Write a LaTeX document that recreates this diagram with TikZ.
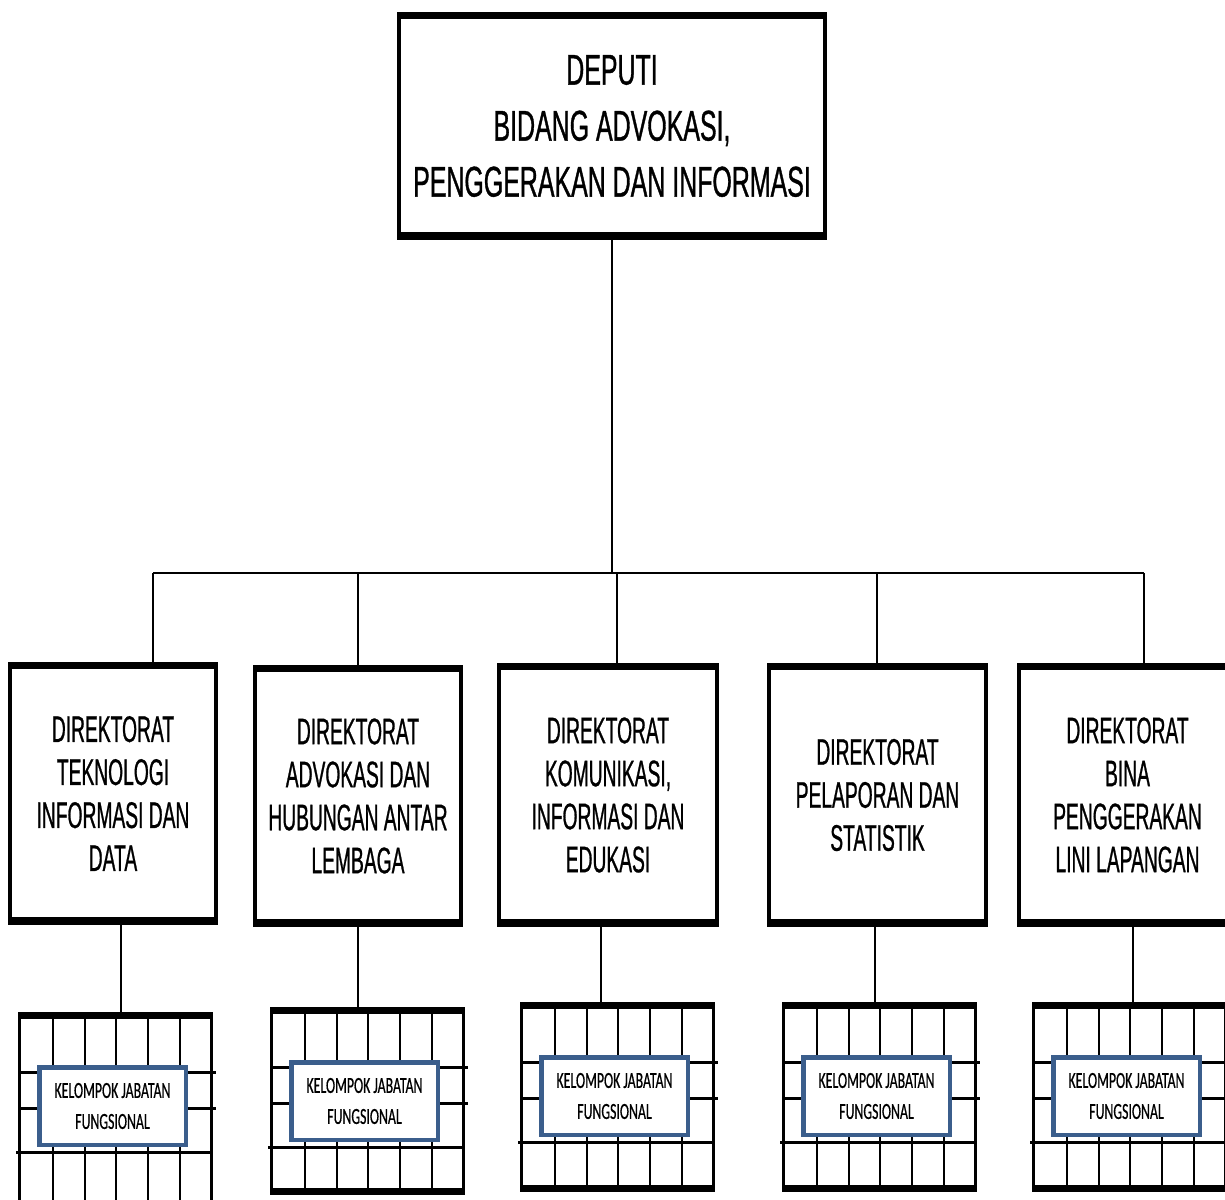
\documentclass[tikz,border=0pt]{standalone}
\usepackage{fontspec}
\newfontfamily\topfont[FakeStretch=0.58,FakeBold=0.8]{Liberation Sans}
\newfontfamily\dirfont[FakeStretch=0.52,FakeBold=0.7]{Liberation Sans}
\newfontfamily\kjfont[FakeStretch=0.6,FakeBold=0.5]{Carlito}
\definecolor{kjblue}{HTML}{3B5E8C}
\newcommand\gridbox[5]{%
  \node[gridframe, minimum height=#4-3, anchor=north west] (#1) at (#2,#3) {};
  \foreach \dx in {35,67,98,130,162}
    \draw[gridline] (#2+\dx,#3) -- (#2+\dx,#3+#4);
  \draw[gridrow] (#2+3,#3+60) -- (#2+198,#3+60);
  \draw[gridrow] (#2+3,#3+96) -- (#2+198,#3+96);
  \draw[gridrow] (#2-2,#3+140) -- (#2+193,#3+140);
  \fill (#1.north west) rectangle ([yshift=-7pt]#1.north east);
  \fill (#1.south west) rectangle ([yshift=7pt]#1.south east);
  \node[kj, minimum width=146.5, minimum height=77.5] (#5) at (#2+94.5,#3+94) {KELOMPOK JABATAN\\FUNGSIONAL};
}
\begin{document}
\begin{tikzpicture}[x=1pt,y=-1pt,
  conn/.style={line width=2},
  box/.style={draw, line width=4, fill=white, inner sep=0, align=center},
  dirbox/.style={box, font=\dirfont\fontsize{37}{43}\selectfont},
  gridframe/.style={draw, line width=3, minimum width=192, inner sep=0},
  gridline/.style={line width=2},
  gridrow/.style={line width=3},
  kj/.style={draw=kjblue, line width=4.5, fill=white, align=center, inner sep=0,
    font=\kjfont\fontsize{23}{31}\selectfont}]
\clip (0,0) rectangle (1225,1199);
\fill[white] (0,0) rectangle (1225,1199);

% top box
\node[box, minimum width=426, minimum height=224,
  font=\topfont\fontsize{43}{56}\selectfont] (dep) at (612,126)
  {DEPUTI\\BIDANG ADVOKASI,\\PENGGERAKAN DAN INFORMASI};
\fill (dep.north west) rectangle ([yshift=-7pt]dep.north east);
\fill (dep.south west) rectangle ([yshift=8pt]dep.south east);

% directorates
\node[dirbox, minimum width=206, minimum height=259] (d1) at (113,793.5)
  {DIREKTORAT\\TEKNOLOGI\\INFORMASI DAN\\DATA};
\node[dirbox, minimum width=206, minimum height=258] (d2) at (358,796)
  {DIREKTORAT\\ADVOKASI DAN\\HUBUNGAN ANTAR\\LEMBAGA};
\node[dirbox, minimum width=218, minimum height=260] (d3) at (608,795)
  {DIREKTORAT\\KOMUNIKASI,\\INFORMASI DAN\\EDUKASI};
\node[dirbox, minimum width=217, minimum height=260] (d4) at (877.5,795)
  {DIREKTORAT\\PELAPORAN DAN\\STATISTIK};
\node[dirbox, minimum width=217, minimum height=260] (d5) at (1127.5,795)
  {DIREKTORAT\\BINA\\PENGGERAKAN\\LINI LAPANGAN};
\foreach \i in {1,...,5}{
  \fill (d\i.north west) rectangle ([yshift=-7pt]d\i.north east);
  \fill (d\i.south west) rectangle ([yshift=8pt]d\i.south east);
}

% connectors top
\coordinate (b1) at (153,573);
\coordinate (b2) at (358,573);
\coordinate (b3) at (617,573);
\coordinate (b4) at (877,573);
\coordinate (b5) at (1144,573);
\draw[conn] (dep.south) -- (dep.south |- b3);
\draw[conn] (b1) -- (b5);
\foreach \i in {1,...,5}
  \draw[conn] (b\i) -- (b\i |- d\i.north);

% grid boxes
\gridbox{g1}{18}{1012}{197}{k1}
\gridbox{g2}{270}{1007}{188}{k2}
\gridbox{g3}{520}{1002}{190}{k3}
\gridbox{g4}{782}{1002}{190}{k4}
\gridbox{g5}{1032}{1002}{190}{k5}

% connectors bottom
\coordinate (c1) at (121,950);
\coordinate (c2) at (358,950);
\coordinate (c3) at (601,950);
\coordinate (c4) at (875,950);
\coordinate (c5) at (1133,950);
\foreach \i in {1,...,5}
  \draw[conn] (c\i |- d\i.south) -- (c\i |- g\i.north);
\end{tikzpicture}
\end{document}
